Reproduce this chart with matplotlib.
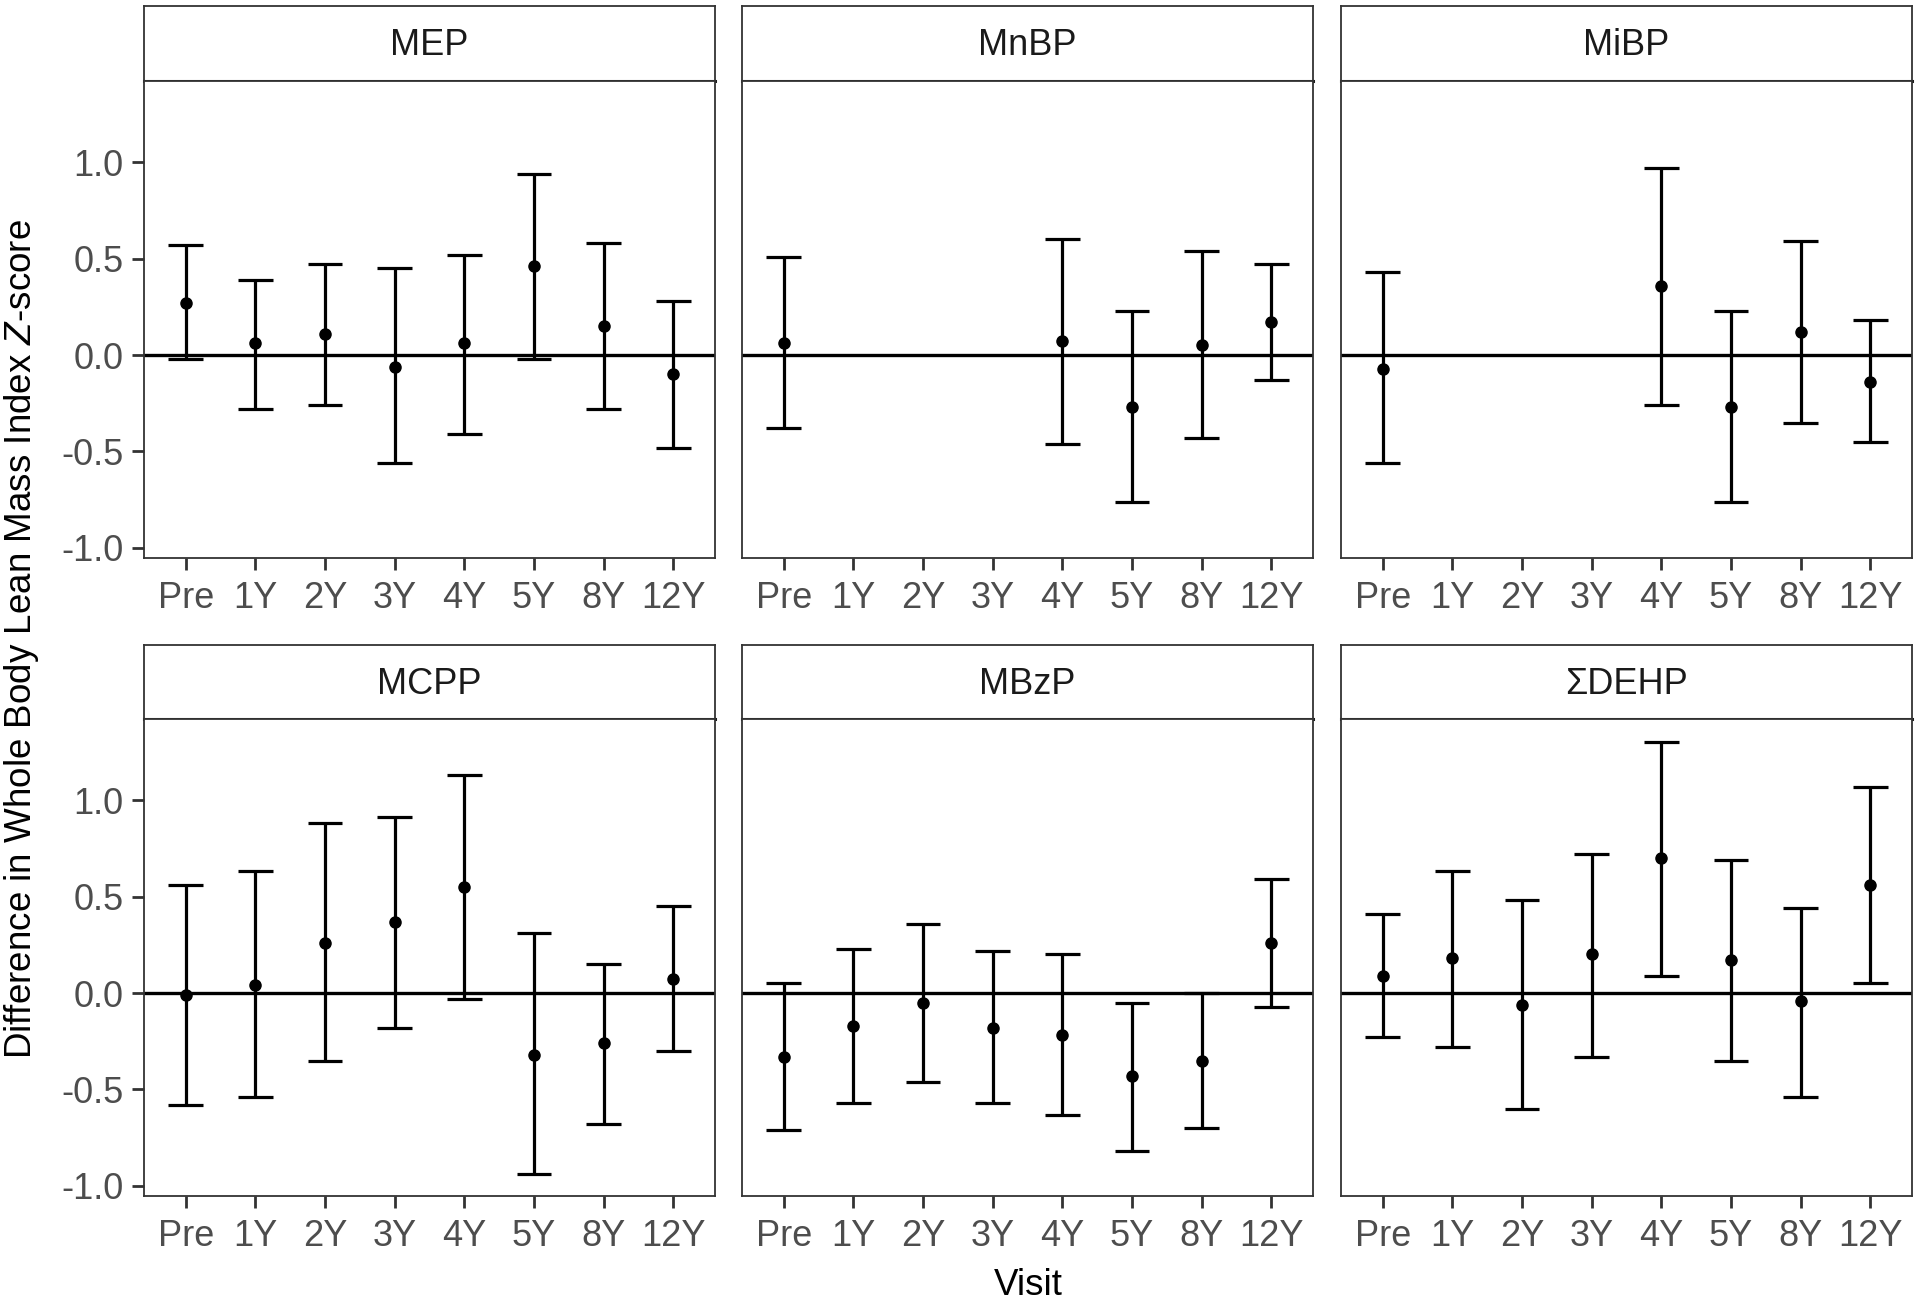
import numpy as np
import matplotlib
matplotlib.use('Agg')
import matplotlib.pyplot as plt
from matplotlib.ticker import FormatStrFormatter

plt.rcParams['font.family'] = ['Liberation Sans', 'DejaVu Sans']
plt.rcParams['mathtext.fontset'] = 'custom'
plt.rcParams['mathtext.rm'] = 'Liberation Sans'
plt.rcParams['mathtext.it'] = 'Liberation Sans:italic'
plt.rcParams['axes.unicode_minus'] = False

nan = np.nan
visits = ['Pre', '1Y', '2Y', '3Y', '4Y', '5Y', '8Y', '12Y']
panels = ['MEP', 'MnBP', 'MiBP', 'MCPP', 'MBzP', '\u03a3DEHP']

# estimate, lower and upper 95% CI per visit
mep_est = [0.27, 0.06, 0.11, -0.06, 0.06, 0.46, 0.15, -0.10]
mep_lo = [-0.02, -0.28, -0.26, -0.56, -0.41, -0.02, -0.28, -0.48]
mep_hi = [0.57, 0.39, 0.47, 0.45, 0.52, 0.94, 0.58, 0.28]

mnbp_est = [0.06, nan, nan, nan, 0.07, -0.27, 0.05, 0.17]
mnbp_lo = [-0.38, nan, nan, nan, -0.46, -0.76, -0.43, -0.13]
mnbp_hi = [0.51, nan, nan, nan, 0.60, 0.23, 0.54, 0.47]

mibp_est = [-0.07, nan, nan, nan, 0.36, -0.27, 0.12, -0.14]
mibp_lo = [-0.56, nan, nan, nan, -0.26, -0.76, -0.35, -0.45]
mibp_hi = [0.43, nan, nan, nan, 0.97, 0.23, 0.59, 0.18]

mcpp_est = [-0.01, 0.04, 0.26, 0.37, 0.55, -0.32, -0.26, 0.07]
mcpp_lo = [-0.58, -0.54, -0.35, -0.18, -0.03, -0.94, -0.68, -0.30]
mcpp_hi = [0.56, 0.63, 0.88, 0.91, 1.13, 0.31, 0.15, 0.45]

mbzp_est = [-0.33, -0.17, -0.05, -0.18, -0.22, -0.43, -0.35, 0.26]
mbzp_lo = [-0.71, -0.57, -0.46, -0.57, -0.63, -0.82, -0.70, -0.07]
mbzp_hi = [0.05, 0.23, 0.36, 0.22, 0.20, -0.05, 0.00, 0.59]

dehp_est = [0.09, 0.18, -0.06, 0.20, 0.70, 0.17, -0.04, 0.56]
dehp_lo = [-0.23, -0.28, -0.60, -0.33, 0.09, -0.35, -0.54, 0.05]
dehp_hi = [0.41, 0.63, 0.48, 0.72, 1.30, 0.69, 0.44, 1.07]

est = [mep_est, mnbp_est, mibp_est, mcpp_est, mbzp_est, dehp_est]
lo = [mep_lo, mnbp_lo, mibp_lo, mcpp_lo, mbzp_lo, dehp_lo]
hi = [mep_hi, mnbp_hi, mibp_hi, mcpp_hi, mbzp_hi, dehp_hi]

W, H = 1920, 1304
fig = plt.figure(figsize=(W / 100, H / 100), dpi=100)


def rect(x0, y0, x1, y1):
    return [x0 / W, 1 - y1 / H, (x1 - x0) / W, (y1 - y0) / H]


cols = [(144, 715), (742, 1313), (1341, 1912)]
rows = [(6, 81, 558), (645, 719, 1196)]
border = '#333333'
x = np.arange(len(visits))
lw_bar = 2.3

for k, name in enumerate(panels):
    r, c = divmod(k, 3)
    x0, x1 = cols[c]
    s0, p0, p1 = rows[r]

    # strip
    sax = fig.add_axes(rect(x0, s0, x1, p0))
    sax.set_xticks([])
    sax.set_yticks([])
    for sp in sax.spines.values():
        sp.set_color(border)
        sp.set_linewidth(1.3)
    sax.spines['bottom'].set_linewidth(2.2)
    sax.spines['bottom'].set_color('#1A1A1A')
    sax.text(0.5, 0.47, name, ha='center', va='center', fontsize=26,
             color='#1A1A1A', transform=sax.transAxes)

    ax = fig.add_axes(rect(x0, p0, x1, p1))
    e = np.array(est[k], dtype=float)
    l = np.array(lo[k], dtype=float)
    h = np.array(hi[k], dtype=float)
    ok = ~np.isnan(e)

    ax.axhline(0, color='black', lw=2.4, zorder=1)
    ax.vlines(x[ok], l[ok], h[ok], color='black', lw=lw_bar, zorder=2)
    ax.hlines(l[ok], x[ok] - 0.25, x[ok] + 0.25, color='black', lw=lw_bar, zorder=2)
    ax.hlines(h[ok], x[ok] - 0.25, x[ok] + 0.25, color='black', lw=lw_bar, zorder=2)
    ax.plot(x[ok], e[ok], 'o', color='black', ms=8, zorder=3)

    ax.set_xlim(-0.6, len(visits) - 0.4)
    ax.set_ylim(-1.052, 1.42)
    ax.set_xticks(x)
    ax.set_xticklabels(visits)
    ax.set_yticks([-1.0, -0.5, 0.0, 0.5, 1.0])
    ax.yaxis.set_major_formatter(FormatStrFormatter('%.1f'))
    ax.tick_params(axis='both', length=8.5, width=2, color=border,
                   labelsize=26, labelcolor='#4D4D4D')
    ax.tick_params(axis='x', pad=8)
    ax.tick_params(axis='y', pad=6)
    if c != 0:
        ax.tick_params(axis='y', left=False, labelleft=False)
    for sp in ax.spines.values():
        sp.set_color(border)
        sp.set_linewidth(1.3)

fig.text(1028 / W, 1 - 1295 / H, 'Visit', ha='center', va='baseline',
         fontsize=26.5, color='black')
fig.text(22 / W, 1 - 639 / H,
         r'Difference in Whole Body Lean Mass Index $\mathit{Z}$-score',
         ha='center', va='center', rotation=90, fontsize=26.5, color='black')

fig.savefig('out.png', dpi=100)
